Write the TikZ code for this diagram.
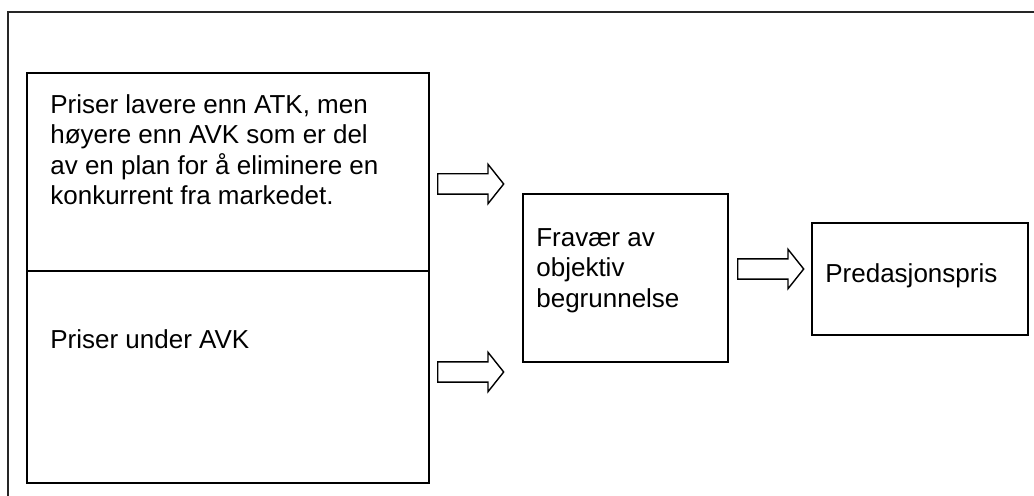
\documentclass[tikz,border=0pt]{standalone}
\usepackage{fontspec}
\setmainfont{Liberation Sans}
\usetikzlibrary{shapes.arrows}

\tikzset{
  box/.style = {draw, line width = 1pt, inner sep = 0pt},
  txt/.style = {anchor = north west, inner sep = 0pt, align = left,
                font = \fontsize{14.8}{17.4}\selectfont},
  fat arrow/.style = {draw, single arrow, line width = 0.8pt,
                      inner xsep = 0pt, inner ysep = 0.19cm,
                      single arrow head extend = 0.19cm, single arrow tip angle = 103,
                      single arrow head indent = 0pt,
                      minimum height = 1.32cm}
}

\begin{document}
\begin{tikzpicture}[x = 0.02cm, y = -0.02cm]
    \useasboundingbox (0, 0) rectangle (1034, 496);

    % outer frame (only top and left edge show)
    \draw[line width = 1pt, black!85] (8, 496) -- (8, 12) -- (1034, 12);

    % the two pricing conditions
    \node[box, minimum width = 8.04cm, minimum height = 3.96cm] (plan) at (228, 172) {};
    \node[box, minimum width = 8.04cm, minimum height = 4.24cm] (under) at (228, 377) {};
    \node[txt] (planTxt) at (50, 94) {Priser lavere enn ATK, men\\høyere enn AVK som er del\\av en plan for å eliminere en\\konkurrent fra markedet.};
    \node[txt] (underTxt) at (50, 329) {Priser under AVK};

    \node[fat arrow, anchor = tail] (planArrow) at (437, 184) {};
    \node[fat arrow, anchor = tail] (underArrow) at (437, 372) {};

    % justification
    \node[box, minimum width = 4.1cm, minimum height = 3.36cm] (fravaer) at (625.5, 278) {};
    \node[txt] (fravaerTxt) at (536, 228) {Fravær av\\objektiv\\begrunnelse};

    \node[fat arrow, anchor = tail] (fravaerArrow) at (737, 269) {};

    % result
    \node[box, minimum width = 4.32cm, minimum height = 2.24cm] (predasjon) at (920, 279) {};
    \node[txt] (predasjonTxt) at (825, 263) {Predasjonspris};
\end{tikzpicture}
\end{document}
